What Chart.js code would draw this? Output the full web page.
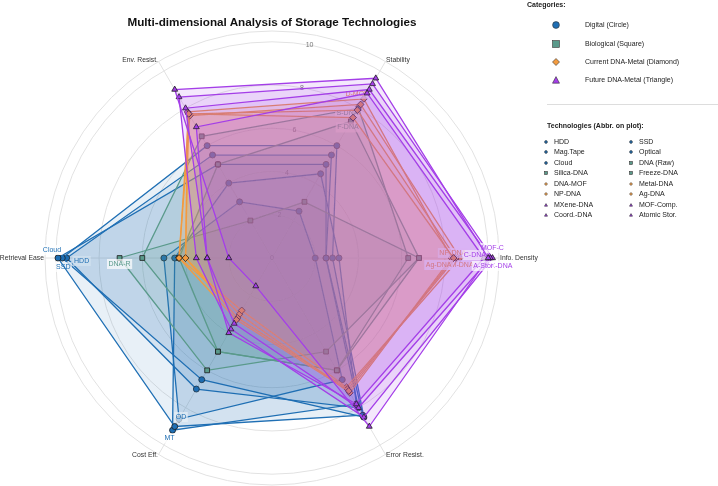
<!DOCTYPE html>
<html>
<head>
<meta charset="utf-8">
<script src="https://cdn.jsdelivr.net/npm/chart.js@4/dist/chart.umd.min.js"></script>
<style>
  body { margin: 0; background: #fff; font-family: Arial, "Liberation Sans", sans-serif; }
  #wrap { position: relative; width: 718px; height: 486px; overflow: hidden; }
  #radar { position: absolute; left: 0; top: 0; }
  .title { position: absolute; left: 0; width: 544px; top: 15px; text-align: center;
           font-weight: bold; font-size: 11.7px; color: #111; }
  .lg { position: absolute; font-size: 7px; color: #222; white-space: nowrap; line-height: 8px; }
  .lg b { font-weight: bold; }
  .mk { position: absolute; }
  .sep { position: absolute; left: 547px; width: 171px; top: 104px; border-top: 1px solid #ddd; }
</style>
</head>
<body>
<div id="wrap">
  <canvas id="radar" width="718" height="486"></canvas>
  <div class="title">Multi-dimensional Analysis of Storage Technologies</div>
  <div id="legend"></div>
</div>
<script>
// axes, clockwise from the right (startAngle 90)
const axisLabels = ['Info. Density', 'Error Resist.', 'Cost Eff.', 'Retrieval Ease', 'Env. Resist.', 'Stability'];
const tickValues = [0, 2, 4, 6, 8, 10];

// scores per technology, same order as axisLabels
const hdd       = [2.5, 8.0, 7.0, 9.5, 5.5, 5.5];
const ssd       = [2.8, 8.5, 6.5, 9.7, 6.0, 6.0];
const magTape   = [3.1, 7.8, 9.2, 4.5, 4.0, 4.5];
const optical   = [2.0, 6.5, 8.6, 5.0, 3.0, 2.5];
const cloud     = [2.5, 8.4, 9.0, 9.9, 5.0, 5.0];
const dnaRaw    = [6.8, 5.0, 6.0, 7.05, 2.0, 3.0];
const silicaDna = [6.3, 6.0, 5.0, 6.0, 6.5, 8.0];
const freezeDna = [6.8, 6.0, 5.0, 4.3, 5.0, 7.3];
const dnaMof    = [8.3, 7.2, 3.0, 4.0, 7.8, 8.5];
const metalDna  = [8.7, 6.9, 2.8, 4.3, 7.6, 8.2];
const npDna     = [8.5, 7.0, 3.2, 4.0, 7.7, 7.9];
const agDna     = [8.4, 7.1, 3.3, 4.3, 7.7, 7.5];
const mxeneDna  = [10.2, 8.5, 3.8, 3.5, 8.6, 9.3];
const mofComp   = [10.1, 8.0, 3.5, 3.0, 8.0, 9.0];
const coordDna  = [9.8, 7.8, 4.0, 3.0, 7.0, 8.8];
const atomicSt  = [10.0, 9.0, 1.5, 2.0, 9.0, 9.6];

const techNames = ['HDD', 'SSD', 'Mag.Tape', 'Optical', 'Cloud', 'DNA (Raw)', 'Silica-DNA', 'Freeze-DNA',
  'DNA-MOF', 'Metal-DNA', 'NP-DNA', 'Ag-DNA', 'MXene-DNA', 'MOF-Comp.', 'Coord.-DNA', 'Atomic Stor.'];
const techAbbr = ['HDD', 'SSD', 'MT', 'OD', 'Cloud', 'DNA-R', 'S-DNA', 'F-DNA',
  'D-MOF', 'M-DNA', 'NP-DNA', 'Ag-DNA', 'X-DNA', 'MOF-C', 'C-DNA', 'A-Stor'];
const techValues = [hdd, ssd, magTape, optical, cloud, dnaRaw, silicaDna, freezeDna,
  dnaMof, metalDna, npDna, agDna, mxeneDna, mofComp, coordDna, atomicSt];
const techCategory = [0, 0, 0, 0, 0, 1, 1, 1, 2, 2, 2, 2, 3, 3, 3, 3];

const categoryNames = ['Digital (Circle)', 'Biological (Square)', 'Current DNA-Metal (Diamond)', 'Future DNA-Metal (Triangle)'];
const categoryColors = ['#1f6fb4', '#5a9a8b', '#f39b3f', '#a43ee8'];
const categoryStyles = ['circle', 'rect', 'rectRot', 'triangle'];

// label offset (px) from the point where each tech peaks
const abbrOffsets = [[15, 3], [1, 9], [-3, 8], [2, -2], [-6, -8], [0, 6], [-11, 5], [-3, 6],
  [-7, -5], [2, 7], [-3, -5], [-15, 7], [9, 8], [2, -10], [-9, -3], [-5, 8]];

function toRGBA(hex, a) {
  const n = parseInt(hex.slice(1), 16);
  return `rgba(${(n >> 16) & 255},${(n >> 8) & 255},${n & 255},${a})`;
}

const datasets = techNames.map((name, i) => {
  const c = categoryColors[techCategory[i]];
  const style = categoryStyles[techCategory[i]];
  return {
    label: name,
    data: techValues[i],
    order: techNames.length - i, // later techs drawn on top
    borderColor: c,
    borderWidth: 1.3,
    backgroundColor: toRGBA(c, techCategory[i] === 0 ? 0.1 : 0.12),
    fill: true,
    pointStyle: style,
    pointRadius: style === 'circle' ? 3 : 3.4,
    pointBackgroundColor: c,
    pointBorderColor: '#1a1a1a',
    pointBorderWidth: 0.8,
  };
});

const overlay = {
  id: 'overlay',
  beforeDatasetsDraw(chart) {
    const r = chart.scales.r, ctx = chart.ctx;
    const a = 80 * Math.PI / 180;
    ctx.save();
    ctx.font = '7px Arial, "Liberation Sans", sans-serif';
    ctx.fillStyle = '#777';
    ctx.textAlign = 'center';
    ctx.textBaseline = 'middle';
    tickValues.forEach(v => {
      const d = r.getDistanceFromCenterForValue(v);
      ctx.fillText(String(v), r.xCenter + d * Math.cos(a), r.yCenter - d * Math.sin(a));
    });
    ctx.restore();
  },
  afterDatasetDraw(chart, args) {
    const i = args.index;
    const vals = techValues[i];
    const k = vals.indexOf(Math.max(...vals));
    const pt = chart.getDatasetMeta(i).data[k];
    const ctx = chart.ctx;
    const x = pt.x + abbrOffsets[i][0], y = pt.y + abbrOffsets[i][1];
    ctx.save();
    ctx.font = '7px Arial, "Liberation Sans", sans-serif';
    const w = ctx.measureText(techAbbr[i]).width;
    ctx.fillStyle = 'rgba(255,255,255,0.7)';
    ctx.fillRect(x - w / 2 - 1.5, y - 5, w + 3, 10);
    ctx.fillStyle = categoryColors[techCategory[i]];
    ctx.textAlign = 'center';
    ctx.textBaseline = 'middle';
    ctx.fillText(techAbbr[i], x, y);
    ctx.restore();
  },
  afterDraw(chart) {
    const r = chart.scales.r, ctx = chart.ctx;
    const dist = r.getDistanceFromCenterForValue(10.5) + 1;
    ctx.save();
    ctx.font = '6.8px Arial, "Liberation Sans", sans-serif';
    ctx.fillStyle = '#333';
    ctx.textBaseline = 'middle';
    axisLabels.forEach((lab, i) => {
      const p = r.getPointPosition(i, dist);
      ctx.textAlign = p.x > r.xCenter + 1 ? 'left' : (p.x < r.xCenter - 1 ? 'right' : 'center');
      ctx.fillText(lab, p.x, p.y);
    });
    ctx.restore();
  },
};

new Chart(document.getElementById('radar'), {
  type: 'radar',
  data: { labels: axisLabels, datasets },
  options: {
    responsive: false,
    animation: false,
    layout: { padding: { left: 45, top: 31, right: 219, bottom: 1 } },
    elements: { line: { tension: 0 } },
    plugins: { legend: { display: false }, tooltip: { enabled: false } },
    scales: {
      r: {
        min: 0,
        max: 10.5,
        startAngle: 90,
        ticks: { display: false, stepSize: 2 },
        afterBuildTicks: s => { s.ticks = tickValues.concat([10.5]).map(v => ({ value: v })); },
        pointLabels: { display: false },
        grid: { circular: true, color: '#e2e2e2', lineWidth: 1 },
        angleLines: { color: '#e2e2e2', lineWidth: 1 },
      },
    },
  },
  plugins: [overlay],
});

// legend (HTML)
function markerSvg(style, color, s) {
  const h = s / 2;
  let shape;
  if (style === 'circle') shape = `<circle cx="${h}" cy="${h}" r="${h - 0.6}"/>`;
  else if (style === 'rect') shape = `<rect x="0.6" y="0.6" width="${s - 1.2}" height="${s - 1.2}"/>`;
  else if (style === 'rectRot') shape = `<polygon points="${h},0.5 ${s - 0.5},${h} ${h},${s - 0.5} 0.5,${h}"/>`;
  else shape = `<polygon points="${h},0.6 ${s - 0.5},${s - 0.8} 0.5,${s - 0.8}"/>`;
  return `<svg width="${s}" height="${s}" style="display:block"><g fill="${color}" stroke="#333" stroke-width="0.6">${shape}</g></svg>`;
}

let html = '<div class="lg" style="left:527px;top:1px"><b>Categories:</b></div>';
const catRows = [25, 44, 62, 80];
categoryNames.forEach((n, i) => {
  html += `<div class="mk" style="left:552px;top:${catRows[i] - 4}px">${markerSvg(categoryStyles[i], categoryColors[i], 8)}</div>`;
  html += `<div class="lg" style="left:585px;top:${catRows[i] - 4}px">${n}</div>`;
});
html += '<div class="sep"></div>';
html += '<div class="lg" style="left:547px;top:122px"><b>Technologies (Abbr. on plot):</b></div>';
techNames.forEach((n, i) => {
  const row = Math.floor(i / 2), col = i % 2;
  const y = 141.7 + row * 10.5;
  const mx = col ? 629 : 544;
  const tx = col ? 639 : 554;
  html += `<div class="mk" style="left:${mx}px;top:${(y - 2).toFixed(1)}px">${markerSvg(categoryStyles[techCategory[i]], categoryColors[techCategory[i]], 4)}</div>`;
  html += `<div class="lg" style="left:${tx}px;top:${(y - 4).toFixed(1)}px">${n}</div>`;
});
document.getElementById('legend').innerHTML = html;
</script>
</body>
</html>
